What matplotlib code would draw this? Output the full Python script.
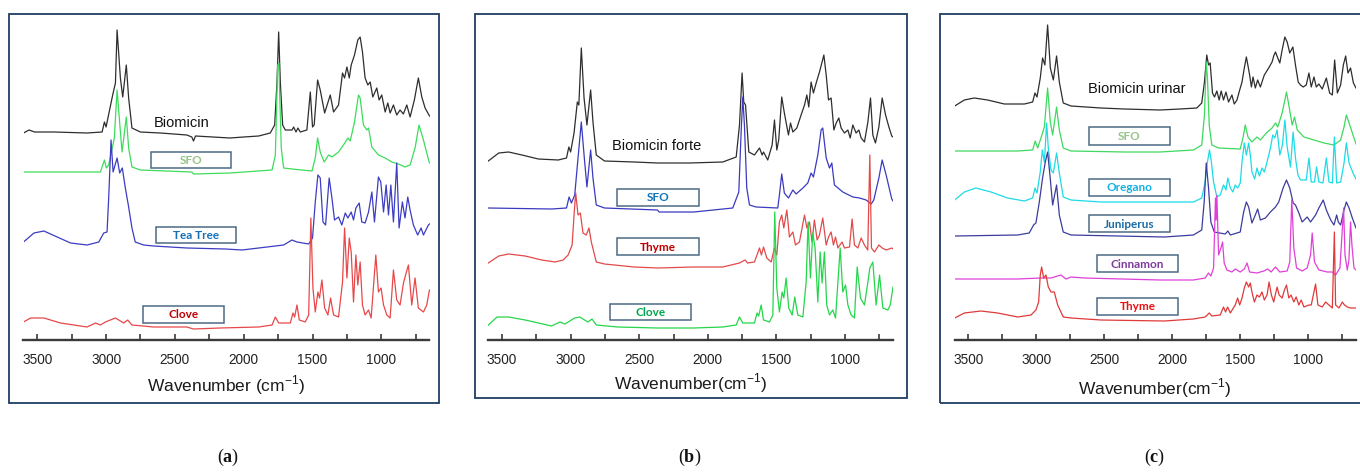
import matplotlib
matplotlib.use("Agg")
import matplotlib.pyplot as plt
from matplotlib.patches import Rectangle

plt.rcParams['font.family'] = ['Liberation Sans', 'DejaVu Sans']
plt.rcParams['mathtext.fontset'] = 'custom'
plt.rcParams['mathtext.bf'] = 'Liberation Serif:bold'
plt.rcParams['mathtext.rm'] = 'Liberation Sans'

W, H = 1360, 475

# ---------------- data: panel (a) ----------------
a_bio_wn = [3600, 3560, 3520, 3379, 3138, 3029, 3012, 3000, 2952, 2932, 2920, 2896, 2879, 2853, 2836, 2812, 2751, 2606, 2413, 2377, 2365, 2350, 2099, 2000, 1891, 1807, 1775, 1758, 1746, 1734, 1717, 1698, 1649, 1637, 1620, 1606, 1589, 1541, 1516, 1500, 1488, 1463, 1444, 1412, 1371, 1347, 1311, 1282, 1267, 1250, 1233, 1219, 1195, 1171, 1154, 1137, 1118, 1098, 1081, 1062, 1033, 1016, 997, 972, 953, 936, 912, 888, 864, 840, 815, 791, 760, 731, 706, 682, 658, 650]
a_bio_v = [207, 210, 208, 208, 207, 208, 218, 213, 245, 257, 310, 262, 243, 275, 242, 212, 208, 207, 205, 203, 199, 204, 202, 203, 204, 207, 215, 258, 308, 258, 215, 210, 210, 213, 208, 212, 208, 210, 248, 213, 215, 260, 250, 227, 245, 228, 235, 267, 262, 273, 262, 275, 285, 300, 303, 288, 262, 255, 258, 243, 252, 240, 245, 228, 237, 227, 235, 225, 230, 226, 235, 223, 240, 262, 243, 232, 226, 224]

a_sfo_wn = [3600, 3041, 3012, 2998, 2981, 2940, 2920, 2900, 2884, 2853, 2836, 2812, 2751, 2377, 2365, 2099, 1794, 1770, 1753, 1745, 1727, 1710, 1649, 1504, 1480, 1463, 1444, 1415, 1383, 1359, 1311, 1275, 1243, 1226, 1195, 1166, 1154, 1130, 1105, 1093, 1069, 1021, 972, 924, 876, 828, 791, 755, 726, 694, 653, 650]
a_sfo_v = [168, 168, 180, 172, 175, 202, 250, 215, 188, 223, 192, 173, 170, 168, 166, 167, 170, 185, 275, 277, 192, 172, 171, 169, 182, 202, 188, 178, 185, 183, 188, 195, 202, 199, 218, 245, 242, 215, 210, 212, 193, 185, 182, 178, 176, 173, 175, 192, 215, 200, 178, 177]

a_tea_wn = [3600, 3524, 3452, 3355, 3258, 3138, 3053, 3017, 2993, 2981, 2964, 2949, 2920, 2901, 2882, 2860, 2836, 2812, 2788, 2727, 2655, 2413, 2133, 2012, 1891, 1710, 1649, 1613, 1528, 1500, 1480, 1461, 1444, 1424, 1405, 1379, 1359, 1340, 1311, 1287, 1262, 1243, 1219, 1202, 1185, 1161, 1142, 1118, 1093, 1069, 1050, 1021, 1004, 984, 965, 948, 931, 912, 888, 871, 847, 828, 808, 791, 767, 736, 711, 694, 658, 650]
a_tea_v = [98, 107, 109, 103, 97, 95, 98, 107, 108, 142, 200, 168, 182, 167, 172, 152, 133, 112, 98, 95, 94, 92, 91, 90, 92, 95, 100, 98, 96, 102, 138, 165, 162, 118, 115, 162, 142, 120, 123, 115, 127, 122, 128, 120, 132, 137, 118, 117, 128, 148, 118, 163, 158, 128, 155, 125, 155, 118, 177, 112, 138, 122, 143, 130, 115, 105, 112, 105, 115, 116]

a_clove_wn = [3600, 3548, 3452, 3331, 3138, 3077, 3041, 3005, 2969, 2932, 2896, 2872, 2843, 2812, 2655, 2413, 2365, 2172, 1891, 1794, 1770, 1746, 1661, 1642, 1630, 1613, 1596, 1553, 1528, 1512, 1497, 1480, 1461, 1449, 1432, 1412, 1388, 1369, 1347, 1311, 1282, 1267, 1250, 1233, 1219, 1202, 1185, 1171, 1154, 1137, 1118, 1093, 1074, 1040, 1021, 1002, 984, 960, 936, 912, 888, 864, 839, 820, 803, 779, 755, 731, 694, 670, 653, 650]
a_clove_v = [18, 22, 22, 17, 13, 17, 15, 18, 20, 22, 19, 17, 20, 15, 13, 13, 11, 12, 13, 15, 23, 17, 17, 27, 23, 35, 20, 18, 25, 122, 52, 28, 48, 42, 60, 32, 25, 42, 25, 23, 58, 112, 62, 102, 88, 38, 85, 55, 78, 35, 25, 30, 22, 85, 48, 52, 35, 25, 22, 70, 40, 35, 57, 67, 75, 35, 62, 32, 28, 35, 48, 50]

# ---------------- data: panel (b) ----------------
b_bio_wn = [3600, 3524, 3452, 3355, 3235, 3090, 3030, 3013, 3000, 2975, 2951, 2940, 2922, 2902, 2881, 2854, 2837, 2813, 2753, 2536, 2367, 2134, 1891, 1793, 1769, 1750, 1738, 1725, 1701, 1660, 1623, 1604, 1594, 1563, 1531, 1514, 1497, 1483, 1461, 1442, 1412, 1397, 1380, 1351, 1320, 1295, 1278, 1264, 1247, 1230, 1210, 1186, 1167, 1154, 1137, 1120, 1101, 1081, 1064, 1045, 1028, 1004, 979, 962, 943, 919, 899, 882, 858, 833, 814, 797, 778, 753, 729, 704, 680, 659, 650]
b_bio_v = [179, 187, 188, 185, 181, 180, 182, 193, 188, 207, 238, 235, 292, 242, 215, 250, 218, 185, 179, 178, 177, 177, 178, 183, 215, 267, 238, 235, 188, 185, 192, 185, 188, 180, 195, 220, 190, 200, 243, 227, 205, 217, 208, 212, 225, 235, 245, 233, 258, 247, 257, 268, 278, 285, 265, 240, 242, 210, 217, 222, 212, 207, 210, 202, 215, 207, 210, 202, 198, 218, 242, 205, 197, 213, 242, 225, 213, 204, 203]

b_sfo_wn = [3600, 3139, 3030, 3011, 2994, 2970, 2946, 2922, 2902, 2881, 2854, 2837, 2813, 2753, 2367, 2355, 2102, 1818, 1774, 1757, 1745, 1733, 1716, 1696, 1648, 1490, 1478, 1461, 1442, 1412, 1380, 1356, 1307, 1271, 1247, 1230, 1198, 1174, 1162, 1137, 1113, 1096, 1077, 1016, 943, 894, 846, 809, 790, 753, 729, 700, 659, 650]
b_sfo_v = [132, 131, 132, 143, 137, 145, 182, 218, 185, 153, 190, 162, 135, 132, 130, 128, 128, 132, 148, 208, 243, 215, 152, 135, 133, 132, 145, 166, 147, 142, 150, 146, 152, 157, 167, 163, 185, 210, 212, 182, 172, 177, 155, 148, 143, 142, 140, 136, 140, 162, 180, 165, 141, 139]

b_thyme_wn = [3600, 3524, 3452, 3331, 3211, 3114, 3054, 3018, 2989, 2975, 2963, 2946, 2929, 2910, 2886, 2866, 2849, 2813, 2753, 2536, 2367, 2102, 1891, 1769, 1728, 1710, 1660, 1623, 1609, 1594, 1570, 1538, 1514, 1497, 1478, 1461, 1446, 1424, 1405, 1380, 1361, 1332, 1295, 1278, 1259, 1240, 1223, 1203, 1186, 1162, 1137, 1120, 1101, 1084, 1069, 1052, 1021, 1004, 967, 948, 931, 906, 882, 858, 834, 819, 807, 785, 753, 729, 700, 659, 650]
b_thyme_v = [77, 84, 86, 84, 80, 78, 80, 85, 95, 125, 147, 125, 127, 107, 105, 112, 98, 78, 76, 73, 72, 73, 73, 77, 80, 77, 78, 92, 85, 93, 82, 78, 92, 85, 118, 125, 112, 130, 103, 108, 95, 98, 125, 112, 118, 98, 120, 100, 105, 122, 95, 103, 108, 95, 103, 92, 98, 92, 93, 121, 95, 92, 102, 95, 90, 185, 92, 88, 95, 92, 90, 92, 91]

b_clove_wn = [3600, 3536, 3452, 3331, 3139, 3078, 3042, 3006, 2970, 2934, 2898, 2874, 2844, 2813, 2656, 2367, 2102, 1891, 1793, 1769, 1745, 1660, 1641, 1629, 1611, 1594, 1550, 1526, 1512, 1497, 1478, 1458, 1446, 1429, 1410, 1385, 1366, 1344, 1307, 1283, 1269, 1252, 1235, 1218, 1198, 1181, 1167, 1150, 1133, 1113, 1089, 1069, 1035, 1016, 996, 979, 955, 931, 911, 887, 858, 833, 819, 797, 773, 748, 724, 688, 670, 651, 650]
b_clove_v = [15, 23, 23, 20, 14, 18, 16, 19, 22, 23, 20, 18, 21, 15, 13, 12, 12, 13, 15, 23, 17, 17, 27, 24, 35, 20, 18, 25, 128, 52, 28, 48, 42, 62, 32, 25, 43, 25, 23, 58, 118, 62, 107, 92, 38, 88, 57, 88, 35, 25, 30, 22, 92, 48, 55, 35, 25, 22, 73, 42, 35, 58, 72, 78, 35, 65, 32, 30, 35, 52, 53]

# ---------------- data: panel (c) ----------------
c_bio_wn = [3600, 3529, 3456, 3358, 3235, 3088, 3027, 3010, 2995, 2971, 2954, 2937, 2917, 2897, 2875, 2851, 2831, 2802, 2745, 2525, 2353, 2091, 1943, 1820, 1784, 1764, 1747, 1734, 1722, 1705, 1690, 1673, 1656, 1641, 1624, 1606, 1587, 1562, 1545, 1525, 1505, 1488, 1471, 1456, 1445, 1432, 1419, 1407, 1390, 1373, 1353, 1324, 1292, 1267, 1255, 1242, 1225, 1210, 1193, 1173, 1156, 1137, 1114, 1095, 1075, 1058, 1038, 1016, 996, 979, 959, 942, 923, 898, 868, 844, 824, 807, 787, 763, 743, 726, 709, 690, 669, 650]
c_bio_v = [234, 240, 242, 240, 236, 236, 238, 247, 243, 262, 282, 275, 315, 272, 260, 284, 258, 237, 234, 232, 231, 230, 231, 232, 237, 258, 285, 275, 277, 247, 243, 249, 240, 249, 240, 248, 238, 245, 236, 240, 250, 258, 272, 283, 275, 265, 253, 263, 252, 260, 253, 265, 272, 278, 284, 288, 282, 277, 290, 303, 298, 287, 293, 275, 258, 255, 253, 255, 267, 253, 263, 253, 256, 251, 262, 247, 245, 280, 247, 255, 275, 284, 267, 272, 257, 252]

c_sfo_wn = [3600, 3137, 3027, 3008, 2990, 2966, 2941, 2917, 2897, 2880, 2851, 2831, 2802, 2745, 2353, 2091, 1845, 1784, 1764, 1751, 1742, 1729, 1710, 1660, 1501, 1481, 1464, 1444, 1415, 1378, 1353, 1309, 1267, 1242, 1225, 1193, 1173, 1161, 1144, 1119, 1102, 1082, 1033, 959, 886, 812, 763, 738, 721, 701, 672, 650]
c_sfo_v = [189, 189, 190, 199, 192, 202, 213, 252, 218, 205, 233, 210, 192, 189, 188, 188, 190, 195, 225, 278, 262, 215, 195, 192, 191, 202, 215, 203, 198, 203, 200, 207, 212, 217, 213, 227, 240, 248, 235, 215, 223, 210, 203, 200, 197, 195, 200, 213, 225, 217, 205, 196]

c_oreg_wn = [3600, 3529, 3444, 3333, 3211, 3088, 3027, 3010, 2995, 2971, 2956, 2941, 2924, 2912, 2892, 2875, 2851, 2831, 2802, 2745, 2525, 2091, 1845, 1784, 1759, 1742, 1727, 1715, 1697, 1673, 1648, 1624, 1606, 1592, 1574, 1555, 1538, 1520, 1501, 1488, 1471, 1456, 1439, 1427, 1415, 1395, 1378, 1360, 1341, 1324, 1304, 1279, 1262, 1247, 1230, 1210, 1191, 1173, 1156, 1132, 1112, 1095, 1077, 1058, 1033, 1016, 996, 979, 955, 940, 923, 893, 868, 849, 824, 809, 792, 763, 738, 721, 701, 672, 650]
c_oreg_v = [140, 148, 152, 148, 142, 139, 142, 152, 147, 168, 190, 178, 217, 192, 170, 167, 187, 167, 143, 140, 138, 138, 138, 142, 158, 178, 190, 180, 158, 143, 145, 155, 150, 162, 152, 148, 155, 152, 157, 178, 197, 185, 197, 185, 168, 161, 172, 164, 172, 168, 178, 192, 205, 202, 210, 185, 195, 220, 193, 173, 208, 182, 165, 160, 160, 160, 182, 158, 158, 173, 158, 157, 182, 158, 157, 203, 157, 158, 177, 197, 177, 167, 161]

c_jun_wn = [3600, 3137, 3052, 3020, 3003, 2978, 2954, 2934, 2917, 2900, 2880, 2851, 2831, 2802, 2745, 2059, 1845, 1784, 1766, 1751, 1734, 1717, 1692, 1611, 1592, 1574, 1501, 1476, 1456, 1439, 1415, 1390, 1373, 1353, 1316, 1279, 1242, 1218, 1186, 1161, 1137, 1112, 1095, 1070, 1046, 1009, 984, 947, 923, 891, 868, 836, 812, 792, 780, 763, 738, 721, 701, 677, 650]
c_jun_v = [104, 105, 107, 115, 117, 138, 162, 178, 188, 165, 135, 155, 125, 108, 105, 103, 105, 110, 138, 177, 152, 118, 108, 106, 109, 105, 108, 128, 138, 133, 117, 125, 131, 120, 122, 128, 133, 138, 152, 160, 152, 137, 135, 127, 118, 123, 118, 125, 132, 140, 130, 120, 115, 125, 118, 115, 130, 138, 132, 122, 112]

c_cinn_wn = [3600, 3137, 2966, 2892, 2819, 2782, 2745, 2647, 2091, 1845, 1759, 1734, 1717, 1697, 1683, 1678, 1673, 1660, 1643, 1631, 1619, 1599, 1562, 1538, 1501, 1471, 1451, 1432, 1378, 1328, 1299, 1274, 1242, 1210, 1156, 1137, 1122, 1107, 1087, 1046, 1009, 984, 972, 955, 923, 861, 824, 800, 768, 750, 741, 731, 714, 702, 690, 680, 665, 650]
c_cinn_v = [61, 61, 62, 62, 65, 61, 63, 62, 60, 60, 62, 67, 64, 72, 142, 120, 145, 85, 92, 98, 77, 70, 68, 71, 68, 71, 77, 68, 67, 69, 71, 68, 73, 68, 69, 78, 140, 92, 72, 69, 72, 85, 107, 78, 70, 68, 68, 65, 72, 112, 132, 85, 70, 80, 118, 95, 72, 70]

c_thyme_wn = [3600, 3529, 3407, 3284, 3137, 3039, 3003, 2983, 2971, 2961, 2946, 2929, 2912, 2892, 2868, 2843, 2802, 2745, 2525, 2059, 1845, 1759, 1729, 1710, 1648, 1624, 1609, 1594, 1574, 1538, 1520, 1505, 1488, 1471, 1456, 1439, 1427, 1415, 1397, 1378, 1360, 1341, 1324, 1304, 1289, 1272, 1255, 1230, 1215, 1193, 1176, 1161, 1144, 1127, 1107, 1090, 1070, 1053, 1033, 996, 979, 947, 930, 898, 873, 849, 824, 809, 800, 775, 750, 735, 714, 690, 650]
c_thyme_v = [22, 27, 29, 27, 23, 25, 30, 38, 65, 73, 62, 65, 53, 48, 48, 35, 23, 22, 20, 19, 21, 23, 27, 24, 25, 33, 28, 33, 27, 35, 42, 35, 42, 52, 58, 53, 57, 48, 38, 45, 43, 48, 40, 45, 58, 45, 38, 53, 45, 42, 50, 55, 42, 45, 38, 43, 35, 40, 33, 35, 35, 56, 35, 33, 38, 35, 32, 108, 35, 32, 38, 35, 33, 32, 32]

tick_major = [3500, 3000, 2500, 2000, 1500, 1000]
tick_minor = [3250, 2750, 2250, 1750, 1250, 750]

fig = plt.figure(figsize=(W / 100, H / 100), dpi=100)
fig.patch.set_facecolor('white')


def fx(px):
    return px / W


def fy(py):
    return 1 - py / H


def frame(x0, y0, x1, y1):
    r = Rectangle((fx(x0), fy(y1)), fx(x1) - fx(x0), fy(y0) - fy(y1),
                  transform=fig.transFigure, fill=False,
                  edgecolor='#1f3d63', lw=1.3, clip_on=False)
    fig.add_artist(r)


def box_label(x0, y0, x1, y1, text, color):
    r = Rectangle((fx(x0), fy(y1)), fx(x1) - fx(x0), fy(y0) - fy(y1),
                  transform=fig.transFigure, facecolor='white',
                  edgecolor='#4d6984', lw=1.1, zorder=5)
    fig.add_artist(r)
    fig.text(fx((x0 + x1) / 2), fy((y0 + y1) / 2 + 0.5), text, ha='center', va='center',
             fontsize=8.5, fontweight='bold', color=color, family='Lato', zorder=6)


def panel(x_left, x_right, series, xlabel, xl_pos):
    ax = fig.add_axes([fx(x_left), fy(340), fx(x_right) - fx(x_left), 320 / H])
    ax.set_facecolor('none')
    for wn, v, col in series:
        ax.plot(wn, v, color=col, lw=0.9)
    ax.set_xlim(3600, 650)
    ax.set_ylim(0, 320)
    for s in ['left', 'right', 'top']:
        ax.spines[s].set_visible(False)
    ax.spines['bottom'].set_linewidth(1.7)
    ax.spines['bottom'].set_color('#3a3a3a')
    ax.set_yticks([])
    ax.set_xticks(tick_major)
    ax.set_xticks(tick_minor, minor=True)
    ax.tick_params(axis='x', which='both', direction='in', length=4, width=1.2,
                   color='#3a3a3a', labelsize=9.8, labelcolor='#222222', pad=9)
    fig.text(fx(xl_pos[0]), fy(xl_pos[1]), xlabel, ha='center', va='center',
             fontsize=12.5, color='#1a1a1a')
    return ax


# panel (a)
frame(9, 14, 439, 403)
panel(23.5, 429.5,
      [(a_bio_wn, a_bio_v, '#2e2e2e'), (a_sfo_wn, a_sfo_v, '#3ddc5c'),
       (a_tea_wn, a_tea_v, '#3c3cc4'), (a_clove_wn, a_clove_v, '#e8484a')],
      'Wavenumber (cm$^{\\mathregular{-1}}$)', (226, 385))
fig.text(fx(182), fy(123), 'Biomicin', ha='center', va='center', fontsize=10.5, color='#111111')
box_label(150.7, 151.7, 231.3, 167.7, 'SFO', '#97c48a')
box_label(155.7, 226.7, 236.3, 243.3, 'Tea Tree', '#1470b8')
box_label(142.7, 306, 224, 322.7, 'Clove', '#c00000')

# panel (b)
frame(475, 14, 907, 398)
panel(488.3, 893,
      [(b_bio_wn, b_bio_v, '#2e2e2e'), (b_sfo_wn, b_sfo_v, '#3a3ac0'),
       (b_thyme_wn, b_thyme_v, '#e24a4a'), (b_clove_wn, b_clove_v, '#25d64b')],
      'Wavenumber(cm$^{\\mathregular{-1}}$)', (691, 383))
fig.text(fx(657), fy(145.7), 'Biomicin forte', ha='center', va='center', fontsize=10.5, color='#111111')
box_label(617, 189, 699, 205.7, 'SFO', '#1272b5')
box_label(617, 238.3, 699, 255, 'Thyme', '#c00000')
box_label(610, 304, 691, 320, 'Clove', '#00a550')

# panel (c)
frame(940, 14, 1380, 403)
panel(954.7, 1356,
      [(c_bio_wn, c_bio_v, '#2e2e2e'), (c_sfo_wn, c_sfo_v, '#3ed95e'),
       (c_oreg_wn, c_oreg_v, '#1ddbe6'), (c_jun_wn, c_jun_v, '#3c3c9e'),
       (c_cinn_wn, c_cinn_v, '#e040d8'), (c_thyme_wn, c_thyme_v, '#e03a3a')],
      'Wavenumber(cm$^{\\mathregular{-1}}$)', (1155, 388))
fig.text(fx(1137), fy(89), 'Biomicin urinar', ha='center', va='center', fontsize=10.5, color='#111111')
box_label(1089, 127.3, 1170, 144.7, 'SFO', '#97c48a')
box_label(1089, 178.7, 1170, 195.7, 'Oregano', '#12b2e2')
box_label(1089, 215, 1170, 232, 'Juniperus', '#1a6aa5')
box_label(1097, 255, 1178, 272, 'Cinnamon', '#7b3c9e')
box_label(1097, 298, 1178, 314.7, 'Thyme', '#ee1111')

# sub-figure captions
for xc, letter in [(228, 'a'), (690, 'b'), (1155, 'c')]:
    fig.text(fx(xc), fy(457), '($\\mathbf{%s}$)' % letter, ha='center', va='center',
             fontsize=13, family='Liberation Serif', color='#111111')

fig.savefig('out.png', dpi=100)
